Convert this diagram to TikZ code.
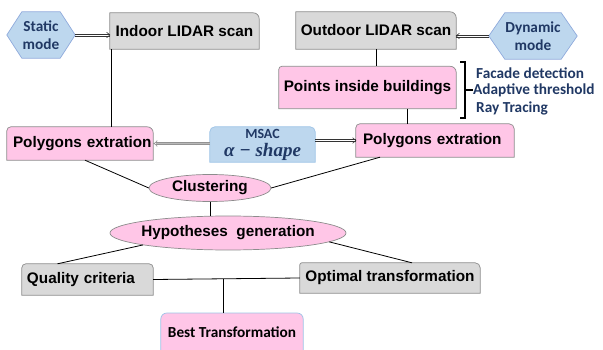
\documentclass[tikz,border=0pt]{standalone}
\usepackage{fontspec}
\setmainfont{Liberation Sans}
\newfontfamily\calibrifont{Carlito}
\newfontfamily\serifmath{Liberation Serif}
\usetikzlibrary{shapes.geometric,arrows.meta,backgrounds,calc}

\definecolor{boxgrey}{HTML}{D9D9D9}
\definecolor{edgegrey}{HTML}{8C8C8C}
\definecolor{boxpink}{HTML}{FFC6E7}
\definecolor{boxblue}{HTML}{BDD7EE}
\definecolor{edgeblue}{HTML}{8FAADC}
\definecolor{lightedge}{HTML}{9DC3E6}
\definecolor{navy}{HTML}{203864}

% box outline with rounded top corners (radii #2 left, #3 right), square bottom
\newcommand\topbox[4]{%
  \path[#4] (#1.south west) -- ([yshift=-#2]#1.north west)
    arc[start angle=180,end angle=90,radius=#2]
    -- ([xshift=-#3]#1.north east)
    arc[start angle=90,end angle=0,radius=#3]
    -- (#1.south east) -- cycle;}
% flat-topped hexagon with pointed sides of depth #2
\newcommand\hexpath[3]{%
  \path[#3] (#1.west) -- ([xshift=#2]#1.north west) -- ([xshift=-#2]#1.north east)
    -- (#1.east) -- ([xshift=-#2]#1.south east) -- ([xshift=#2]#1.south west) -- cycle;}
% horizontal double-line arrow from #1 to #2; #3 = +1 (rightwards) or -1 (leftwards)
\newcommand\dblarrow[3]{%
  \draw[dblline] ([yshift=1.1pt]#1) -- ([yshift=1.1pt]#2);
  \draw[dblline] ([yshift=-1.1pt]#1) -- ([yshift=-1.1pt]#2);
  \draw[dblline, line join=miter] ([xshift=-#3*3.2pt, yshift=2.8pt]#2) -- (#2) -- ([xshift=-#3*3.2pt, yshift=-2.8pt]#2);}

\tikzset{
  txt/.style={font=\bfseries\fontsize{15.3}{18}\selectfont, inner sep=0pt},
  cbx/.style={font=\calibrifont\bfseries\fontsize{15.3}{18}\selectfont, inner sep=0pt},
  stepbox/.style 2 args={txt, minimum width=#1, minimum height=#2, align=center},
  padbox/.style n args={3}{txt, text width=#1-2*#3, inner xsep=#3, minimum height=#2, align=left},
  oval/.style 2 args={ellipse, txt, minimum width=#1, minimum height=#2, inner sep=0pt},
  greyfill/.style={fill=boxgrey, draw=edgegrey, line width=0.7pt},
  pinkfill/.style={fill=boxpink, draw=edgegrey, line width=0.7pt},
  bluefill/.style={fill=boxblue, draw=edgeblue, line width=0.7pt},
  link/.style={draw=black, line width=0.8pt},
  dblline/.style={draw=black!80, line width=0.6pt},
  dblgrey/.style={draw=gray!85, double=gray!55, double distance=1.6pt, line width=0.6pt, -{Implies}},
}

\begin{document}
\begin{tikzpicture}[x=1pt,y=-1pt]
\useasboundingbox (0,0) rectangle (603,350);

% mode hexagons
\node[cbx, text=navy, align=center, minimum width=68pt, minimum height=46pt] (static) at (41,35) {Static\\mode};
\node[cbx, text=navy, align=center, minimum width=88pt, minimum height=46pt] (dynamic) at (533,36) {Dynamic\\mode};

% scans
\node[stepbox={149pt}{36pt}] (indoor) at (184.5,31) {Indoor LIDAR scan};
\node[stepbox={160pt}{37pt}] (outdoor) at (376,30.5) {Outdoor LIDAR scan};
\node[stepbox={177pt}{42pt}] (points) at (367.5,87.5) {Points inside buildings};

% building detection steps
\node[cbx, text=navy, anchor=west] (facade) at (476,73) {Facade detection};
\node[cbx, text=navy, anchor=west] (adaptive) at (473,90) {Adaptive threshold};
\node[cbx, text=navy, anchor=west] (raytr) at (476,108) {Ray Tracing};

% polygon extraction
\node[padbox={146pt}{33pt}{6pt}] (lpoly) at (80,143.5) {\mbox{Polygons extration}};
\node[padbox={158pt}{33pt}{7pt}] (rpoly) at (435,140.5) {\mbox{Polygons extration}};
\node[inner sep=0pt, minimum width=105pt, minimum height=35pt, align=center, text=navy,
      font=\fontsize{16}{18}\selectfont] (msac) at (262.5,144.5)
  {\calibrifont\bfseries\fontsize{14}{18}\selectfont MSAC\\
   \serifmath\bfseries\itshape\fontsize{19}{18}\selectfont α − shape};

% clustering and hypotheses
\node[oval={122pt}{27pt}] (clust) at (210,188) {\makebox[0pt]{Clustering}};
\node[oval={236pt}{34pt}] (hyp) at (228,233) {\makebox[0pt]{Hypotheses\ \ generation}};

% evaluation
\node[padbox={131pt}{31pt}{5pt}] (quality) at (87.5,279.5) {\mbox{Quality criteria}};
\node[stepbox={180pt}{30pt}] (optimal) at (390,278) {Optimal transformation};
\node[cbx, minimum width=142pt, minimum height=38pt, anchor=north] (best) at (232,313) {Best Transformation};

% shapes behind the labels
\begin{scope}[on background layer]
  \hexpath{static}{15pt}{bluefill}
  \hexpath{dynamic}{16pt}{bluefill}
  \topbox{indoor}{0.1pt}{6pt}{greyfill}
  \topbox{outdoor}{0.1pt}{6pt}{greyfill}
  \topbox{points}{3pt}{6pt}{pinkfill}
  \topbox{lpoly}{4pt}{6pt}{pinkfill}
  \topbox{rpoly}{4pt}{5pt}{pinkfill}
  \topbox{msac}{5pt}{5pt}{fill=boxblue, draw=lightedge, line width=0.7pt}
  \topbox{quality}{4pt}{4pt}{greyfill}
  \topbox{optimal}{2pt}{5pt}{greyfill}
  \topbox{best}{6pt}{6pt}{fill=boxpink, draw=lightedge, line width=0.7pt}
  \path[pinkfill] (clust.center) ellipse[x radius=61pt, y radius=13.5pt];
  \path[pinkfill] (hyp.center) ellipse[x radius=118pt, y radius=17pt];
\end{scope}

% mode inputs
\dblarrow{static.east}{indoor.west |- static.east}{1}
\dblarrow{dynamic.west}{outdoor.east |- dynamic.west}{-1}

% bracket grouping the detection steps
\coordinate (brtop) at (460,62);
\coordinate (brbot) at (460,118);
\draw[line width=1.1pt] (brtop) -- ++(5,0) |- (brbot);
\draw[line width=1.1pt] ($(brtop)!0.5!(brbot)+(5,0)$) -- (adaptive.west);

% vertical flow
\draw[link] ([xshift=2pt]indoor.south west) -- ([xshift=2pt]indoor.south west |- lpoly.north);
\draw[link] (outdoor.south) -- (outdoor.south |- points.north);
\draw[link] ([xshift=40pt]points.south) -- ([xshift=40pt]points.south |- rpoly.north);

% MSAC feeding both extractions
\draw[dblgrey] (msac.west |- lpoly.east) -- (lpoly.east);
\dblarrow{msac.east |- rpoly.west}{rpoly.west}{1}

% merge into clustering
\draw[link] ([xshift=5pt]lpoly.south) -- (clust.west);
\draw[link] ([xshift=-55pt]rpoly.south) -- (clust.east);
\draw[link] (clust.south) -- (clust.south |- hyp.north);

% hypotheses evaluation
\draw[link] (hyp.188) -- ([xshift=-30pt]quality.north);
\draw[link] (hyp.355) -- ([xshift=22pt]optimal.north);
\draw[link] (quality.east) -- (optimal.west);
\coordinate (join) at ($(quality.east)!0.48!(optimal.west)$);
\draw[link] (join) -- (join |- best.north);
\end{tikzpicture}
\end{document}
